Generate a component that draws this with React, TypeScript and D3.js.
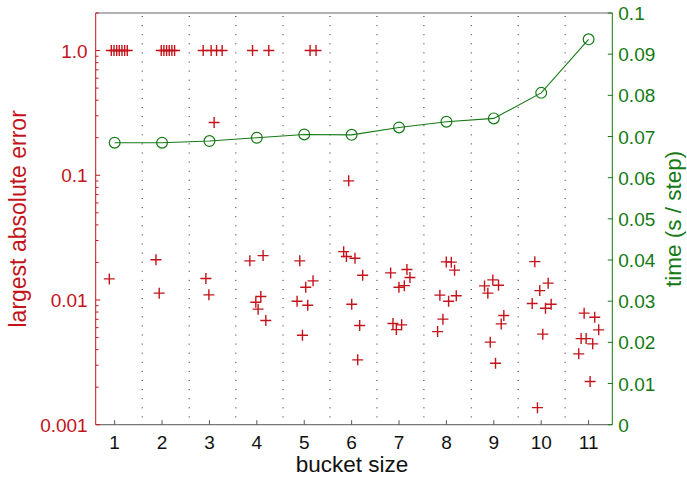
import React, { useEffect, useRef } from 'react';
import * as d3 from 'd3';

// bucket sizes on the x axis
const buckets = [1, 2, 3, 4, 5, 6, 7, 8, 9, 10, 11];

// time per step (right axis), one value per bucket size
const timePerStep = [0.0685, 0.0685, 0.0689, 0.0697, 0.0705, 0.0704, 0.0722, 0.0736, 0.0744, 0.0806, 0.0936];

// largest absolute error per run: x = bucket size (jittered), y = error
const errorX = [
  0.929, 0.986, 1.043, 1.097, 1.154, 1.211, 1.266, 0.887,
  1.983, 2.039, 2.096, 2.151, 2.208, 2.265, 1.871, 1.940,
  2.868, 3.036, 3.150, 3.268, 3.099, 2.925, 2.988,
  3.909, 4.252, 3.852, 4.132, 4.084, 3.978, 4.027, 4.189,
  5.123, 5.249, 4.906, 5.032, 5.186, 4.849, 5.074, 4.962,
  5.938, 5.832, 5.890, 6.071, 6.233, 6.002, 6.170, 6.128,
  6.823, 7.167, 7.230, 6.998, 7.112, 6.872, 7.055, 6.944,
  7.997, 8.103, 8.172, 7.862, 8.208, 8.046, 7.926, 7.814,
  8.979, 8.804, 9.099, 8.874, 9.211, 9.156, 8.925, 9.036,
  9.865, 10.147, 9.970, 9.810, 10.210, 10.090, 10.033, 9.921,
  10.906, 11.129, 11.213, 10.842, 10.948, 11.087, 10.792, 11.032,
];
const errorY = [
  1, 1, 1, 1, 1, 1, 1, 0.01476,
  1, 1, 1, 1, 1, 1, 0.0210, 0.01134,
  1, 1, 1, 1, 0.265, 0.01485, 0.01099,
  1, 1, 0.0206, 0.0227, 0.01065, 0.0096, 0.00844, 0.00684,
  1, 1, 0.0206, 0.01266, 0.01423, 0.00978, 0.00908, 0.00522,
  0.0902, 0.0244, 0.0223, 0.0216, 0.0158, 0.00925, 0.00624, 0.00331,
  0.01649, 0.01754, 0.01513, 0.01266, 0.01303, 0.00647, 0.00632, 0.00579,
  0.0202, 0.0201, 0.01734, 0.01093, 0.0108, 0.00978, 0.00702, 0.00558,
  0.01449, 0.01297, 0.01314, 0.01134, 0.0075, 0.00643, 0.00459, 0.00311,
  0.0203, 0.01364, 0.01189, 0.00936, 0.00925, 0.00859, 0.00532, 0.00137,
  0.00784, 0.00728, 0.00576, 0.0049, 0.0049, 0.00445, 0.0037, 0.00222,
];

// tick values / labels
const errorTicks = [0.001, 0.01, 0.1, 1];
const errorTickLabels = ['0.001', '0.01', '0.1', '1.0'];
const timeTicks = [0, 0.01, 0.02, 0.03, 0.04, 0.05, 0.06, 0.07, 0.08, 0.09, 0.1];
const timeTickLabels = ['0', '0.01', '0.02', '0.03', '0.04', '0.05', '0.06', '0.07', '0.08', '0.09', '0.1'];
const gridX = [1.582, 2.573, 3.557, 4.553, 5.544, 6.534, 7.525, 8.524, 9.514, 10.505];

const RED = '#c3141c';
const GREEN = '#157a15';
const FONT = '"Liberation Sans", Arial, Helvetica, sans-serif';

const App = () => {
  const svgRef = useRef<SVGSVGElement>(null);

  useEffect(() => {
    const width = 687;
    const height = 477;
    const left = 95.7, right = 612.3, top = 13, bottom = 424.7;

    const svg = d3.select(svgRef.current);
    svg.selectAll('*').remove();
    svg.attr('width', width).attr('height', height);

    const x = d3.scaleLinear().domain([0.6, 11.5]).range([left, right]);
    const yErr = d3.scaleLog().domain([0.001, 2]).range([bottom, top]);
    const yTime = d3.scaleLinear().domain([0, 0.1]).range([bottom, top]);

    // dotted vertical separators
    svg.append('g')
      .selectAll('line')
      .data(gridX)
      .join('line')
      .attr('x1', d => x(d)).attr('x2', d => x(d))
      .attr('y1', top + 3).attr('y2', bottom)
      .attr('stroke', '#222')
      .attr('stroke-width', 1)
      .attr('stroke-dasharray', '1,8.1');

    // border lines
    svg.append('line').attr('x1', left).attr('x2', right).attr('y1', top).attr('y2', top)
      .attr('stroke', '#666').attr('stroke-width', 1);
    svg.append('line').attr('x1', left).attr('x2', right).attr('y1', bottom).attr('y2', bottom)
      .attr('stroke', '#777').attr('stroke-width', 1.2);
    svg.append('line').attr('x1', left).attr('x2', left).attr('y1', top).attr('y2', bottom)
      .attr('stroke', RED).attr('stroke-width', 1);
    svg.append('line').attr('x1', right).attr('x2', right).attr('y1', top).attr('y2', bottom)
      .attr('stroke', GREEN).attr('stroke-width', 1);

    // left log axis: minor + major ticks
    const minor: number[] = [];
    [0.001, 0.01, 0.1, 1].forEach(dec => {
      for (let k = 2; k <= 9; k++) if (dec * k <= 2) minor.push(dec * k);
    });
    svg.append('g').selectAll('line').data(minor).join('line')
      .attr('x1', left).attr('x2', left + 2.8)
      .attr('y1', d => yErr(d)).attr('y2', d => yErr(d))
      .attr('stroke', RED).attr('stroke-width', 1);
    svg.append('g').selectAll('line').data(errorTicks).join('line')
      .attr('x1', left).attr('x2', left + 4.5)
      .attr('y1', d => yErr(d)).attr('y2', d => yErr(d))
      .attr('stroke', RED).attr('stroke-width', 1);
    svg.append('g').selectAll('text').data(errorTicks).join('text')
      .attr('x', left - 8)
      .attr('y', d => yErr(d) + 7)
      .attr('text-anchor', 'end')
      .attr('fill', RED)
      .style('font-family', FONT)
      .style('font-size', '19px')
      .text((d, i) => errorTickLabels[i]);

    // right linear axis
    svg.append('g').selectAll('line').data(timeTicks).join('line')
      .attr('x1', right - 4.5).attr('x2', right)
      .attr('y1', d => yTime(d)).attr('y2', d => yTime(d))
      .attr('stroke', GREEN).attr('stroke-width', 1);
    svg.append('g').selectAll('text').data(timeTicks).join('text')
      .attr('x', right + 6)
      .attr('y', d => yTime(d) + 7)
      .attr('fill', GREEN)
      .style('font-family', FONT)
      .style('font-size', '19px')
      .text((d, i) => timeTickLabels[i]);

    // bottom axis
    svg.append('g').selectAll('line').data(buckets).join('line')
      .attr('x1', d => x(d)).attr('x2', d => x(d))
      .attr('y1', bottom - 4.5).attr('y2', bottom)
      .attr('stroke', '#555').attr('stroke-width', 1);
    svg.append('g').selectAll('text').data(buckets).join('text')
      .attr('x', d => x(d))
      .attr('y', bottom + 24.5)
      .attr('text-anchor', 'middle')
      .attr('fill', '#111')
      .style('font-family', FONT)
      .style('font-size', '19px')
      .text(d => String(d));

    // axis titles
    svg.append('text')
      .attr('transform', `translate(26,${(top + bottom) / 2}) rotate(-90)`)
      .attr('text-anchor', 'middle')
      .attr('fill', RED)
      .style('font-family', FONT)
      .style('font-size', '23px')
      .text('largest absolute error');
    svg.append('text')
      .attr('transform', `translate(681,${(top + bottom) / 2}) rotate(-90)`)
      .attr('text-anchor', 'middle')
      .attr('fill', GREEN)
      .style('font-family', FONT)
      .style('font-size', '22.5px')
      .text('time (s / step)');
    svg.append('text')
      .attr('x', 352)
      .attr('y', 471.5)
      .attr('text-anchor', 'middle')
      .attr('fill', '#111')
      .style('font-family', FONT)
      .style('font-size', '22.5px')
      .text('bucket size');

    // error crosses
    const s = 5.5;
    svg.append('g').selectAll('path').data(errorX.map((v, i) => [v, errorY[i]]))
      .join('path')
      .attr('d', d => {
        const cx = x(d[0]), cy = yErr(d[1]);
        return `M${cx - s},${cy}H${cx + s}M${cx},${cy - s}V${cy + s}`;
      })
      .attr('stroke', RED)
      .attr('stroke-width', 1.4)
      .attr('fill', 'none');

    // time line + circles
    const line = d3.line<number>()
      .x((d, i) => x(buckets[i]))
      .y(d => yTime(d));
    svg.append('path')
      .datum(timePerStep)
      .attr('d', line)
      .attr('fill', 'none')
      .attr('stroke', GREEN)
      .attr('stroke-width', 1.1);
    svg.append('g').selectAll('circle').data(timePerStep).join('circle')
      .attr('cx', (d, i) => x(buckets[i]))
      .attr('cy', d => yTime(d))
      .attr('r', 5.4)
      .attr('fill', 'none')
      .attr('stroke', GREEN)
      .attr('stroke-width', 1.2);
  }, []);

  return (
    <div style={{ position: 'absolute', left: 0, top: 0, background: '#fff' }}>
      <svg ref={svgRef}></svg>
    </div>
  );
};

export default App;
